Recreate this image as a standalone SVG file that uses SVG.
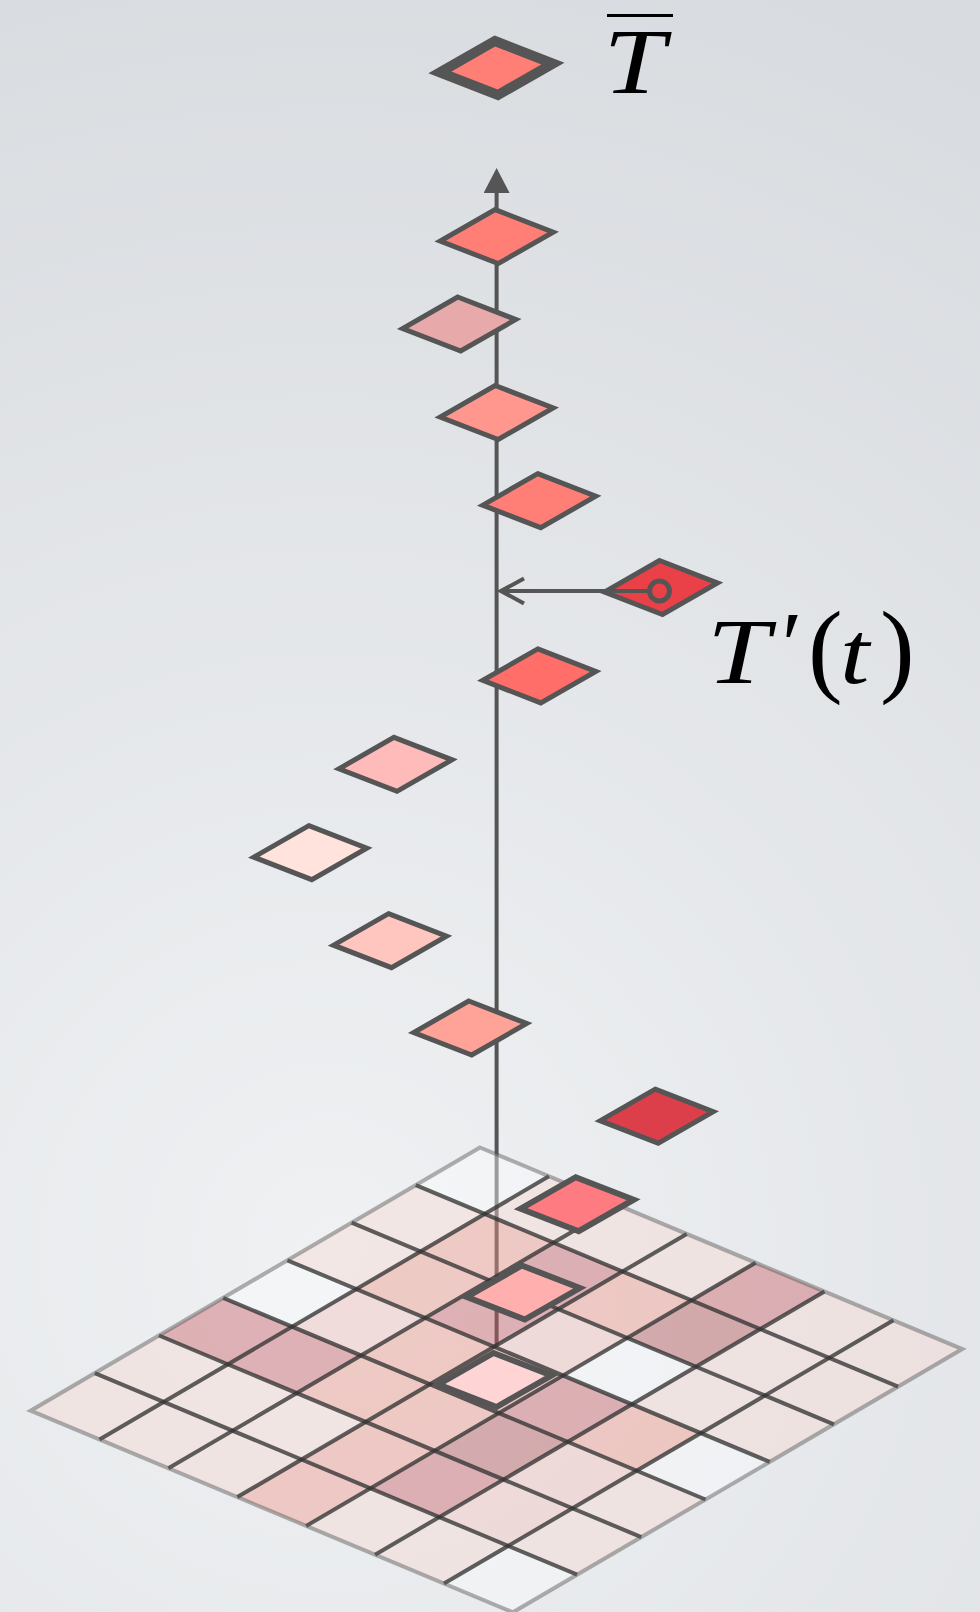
<svg xmlns="http://www.w3.org/2000/svg" xmlns:xlink="http://www.w3.org/1999/xlink" width="980" height="1612" viewBox="0 0 980 1612">
<style>
.dia{stroke:#555;stroke-width:5;stroke-linejoin:miter}
.w6{stroke-width:6}
.bar{stroke-width:10}
.conn{stroke:#555;stroke-width:4;fill:none}
.lab{font-family:"Liberation Serif","Times New Roman",serif;font-style:italic;fill:#000}
.up{font-family:"Liberation Serif","Times New Roman",serif;fill:#000}
.c{fill-opacity:.42}
.cW{fill:#fdfcfe}.cL{fill:#f7d9d2}.cP{fill:#f6c1bc}.cM{fill:#f19588}.cD{fill:#c75a62}.cE{fill:#b24e51}
.gi{fill:none;stroke:#333;stroke-opacity:.78;stroke-width:4}
.gb{fill:none;stroke:#555;stroke-opacity:.45;stroke-width:4}
</style>
<defs>
<radialGradient id="bg" cx="330" cy="1250" r="1350" gradientUnits="userSpaceOnUse">
<stop offset="0" stop-color="#eff1f3"/><stop offset="1" stop-color="#d8dbdf"/>
</radialGradient>
<polygon id="dshape" points="-1.5,-27 56.5,-4.5 1.5,27 -56.5,4.5"/>
<marker id="tri" markerUnits="userSpaceOnUse" viewBox="0 0 25 26" refX="0" refY="13" markerWidth="25" markerHeight="26" orient="auto">
<path d="M0,0L25,13L0,26Z" fill="#555"/>
</marker>
<marker id="chev" markerUnits="userSpaceOnUse" viewBox="-27 -16 30 32" refX="0" refY="0" markerWidth="30" markerHeight="32" orient="auto">
<path d="M-23,-12.5L0,0L-23,12.5" fill="none" stroke="#555" stroke-width="4"/>
</marker>
</defs>
<rect width="980" height="1612" fill="url(#bg)"/>

<g id="connectors">
<line x1="496.6" y1="1347" x2="496.6" y2="193" class="conn" marker-end="url(#tri)"/>
<line x1="606" y1="591" x2="501" y2="591" class="conn" marker-end="url(#chev)"/>
</g>

<g id="grid" transform="matrix(68.9 28.8 -64.2 37.6 480 1147.5)">
<g class="c">
<rect x="0" y="0" width="1" height="1" class="cW"/><rect x="1" y="0" width="1" height="1" class="cL"/><rect x="2" y="0" width="1" height="1" class="cL"/><rect x="3" y="0" width="1" height="1" class="cL"/><rect x="4" y="0" width="1" height="1" class="cD"/><rect x="5" y="0" width="1" height="1" class="cL"/><rect x="6" y="0" width="1" height="1" class="cL"/>
<rect x="0" y="1" width="1" height="1" class="cL"/><rect x="1" y="1" width="1" height="1" class="cM"/><rect x="2" y="1" width="1" height="1" class="cD"/><rect x="3" y="1" width="1" height="1" class="cM"/><rect x="4" y="1" width="1" height="1" class="cE"/><rect x="5" y="1" width="1" height="1" class="cL"/><rect x="6" y="1" width="1" height="1" class="cL"/>
<rect x="0" y="2" width="1" height="1" class="cL"/><rect x="1" y="2" width="1" height="1" class="cM"/><rect x="2" y="2" width="1" height="1" class="cD"/><rect x="3" y="2" width="1" height="1" class="cP"/><rect x="4" y="2" width="1" height="1" class="cW"/><rect x="5" y="2" width="1" height="1" class="cL"/><rect x="6" y="2" width="1" height="1" class="cL"/>
<rect x="0" y="3" width="1" height="1" class="cW"/><rect x="1" y="3" width="1" height="1" class="cP"/><rect x="2" y="3" width="1" height="1" class="cM"/><rect x="3" y="3" width="1" height="1" class="cM"/><rect x="4" y="3" width="1" height="1" class="cD"/><rect x="5" y="3" width="1" height="1" class="cM"/><rect x="6" y="3" width="1" height="1" class="cW"/>
<rect x="0" y="4" width="1" height="1" class="cD"/><rect x="1" y="4" width="1" height="1" class="cD"/><rect x="2" y="4" width="1" height="1" class="cM"/><rect x="3" y="4" width="1" height="1" class="cM"/><rect x="4" y="4" width="1" height="1" class="cE"/><rect x="5" y="4" width="1" height="1" class="cP"/><rect x="6" y="4" width="1" height="1" class="cL"/>
<rect x="0" y="5" width="1" height="1" class="cL"/><rect x="1" y="5" width="1" height="1" class="cL"/><rect x="2" y="5" width="1" height="1" class="cL"/><rect x="3" y="5" width="1" height="1" class="cM"/><rect x="4" y="5" width="1" height="1" class="cD"/><rect x="5" y="5" width="1" height="1" class="cP"/><rect x="6" y="5" width="1" height="1" class="cL"/>
<rect x="0" y="6" width="1" height="1" class="cL"/><rect x="1" y="6" width="1" height="1" class="cL"/><rect x="2" y="6" width="1" height="1" class="cL"/><rect x="3" y="6" width="1" height="1" class="cM"/><rect x="4" y="6" width="1" height="1" class="cL"/><rect x="5" y="6" width="1" height="1" class="cL"/><rect x="6" y="6" width="1" height="1" class="cW"/>
</g>
<path class="gi" vector-effect="non-scaling-stroke" d="M1,0V7M2,0V7M3,0V7M4,0V7M5,0V7M6,0V7"/>
<path class="gi" vector-effect="non-scaling-stroke" d="M0,1H7M0,2H7M0,3H7M0,4H7M0,5H7M0,6H7"/>
<rect class="gb" vector-effect="non-scaling-stroke" x="0" y="0" width="7" height="7"/>
</g>

<g id="d0"><use xlink:href="#dshape" x="496.4" y="68" class="dia bar" fill="#ff7f76"/></g>
<g id="d1"><use xlink:href="#dshape" x="496.7" y="236.6" class="dia" fill="#ff7e75"/></g>
<g id="d2"><use xlink:href="#dshape" x="459.2" y="324" class="dia" fill="#e8a9aa"/></g>
<g id="d3"><use xlink:href="#dshape" x="496.7" y="412.5" class="dia" fill="#ff978e"/></g>
<g id="d4"><use xlink:href="#dshape" x="539.2" y="500.7" class="dia" fill="#ff7f77"/></g>
<g id="d5"><use xlink:href="#dshape" x="661" y="587.5" class="dia" fill="#ea4048"/>
<line x1="604" y1="591" x2="650" y2="591" class="conn"/>
<circle cx="659.5" cy="591" r="10" fill="#ea4048" stroke="#555" stroke-width="5"/></g>
<g id="d6"><use xlink:href="#dshape" x="539.3" y="675.9" class="dia" fill="#ff6e68"/></g>
<g id="d7"><use xlink:href="#dshape" x="395.5" y="764.3" class="dia" fill="#ffbaba"/></g>
<g id="d8"><use xlink:href="#dshape" x="310.3" y="852.7" class="dia" fill="#ffe3dc"/></g>
<g id="d9"><use xlink:href="#dshape" x="390" y="940.7" class="dia" fill="#ffc5bf"/></g>
<g id="d10"><use xlink:href="#dshape" x="470.2" y="1028" class="dia" fill="#ffa398"/></g>
<g id="d11"><use xlink:href="#dshape" x="656.7" y="1116.2" class="dia" fill="#dc3f4a"/></g>
<g id="d12"><use xlink:href="#dshape" x="577.2" y="1204.2" class="dia w6" fill="#ff7b82"/></g>
<g id="d13"><use xlink:href="#dshape" x="523.3" y="1292.5" class="dia w6" fill="#ffb0ae"/></g>
<g id="d14"><use xlink:href="#dshape" x="495" y="1380" class="dia w6" fill="#ffd4d4"/></g>

<g id="label-tbar">
<line x1="607" y1="15.5" x2="673" y2="15.5" stroke="#000" stroke-width="3"/>
<text class="lab" font-size="94" transform="translate(603.5,93.3) scale(1.18,1)">T</text>
</g>
<g id="label-tprime">
<text class="lab" font-size="94" transform="translate(707,683) scale(1.2,1)">T</text>
<text class="lab" font-size="94" x="776" y="676">′</text>
<text class="up" font-size="104" x="808" y="683">(</text>
<text class="lab" font-size="88" transform="translate(840,683) scale(1.2,1)">t</text>
<text class="up" font-size="104" x="880" y="683">)</text>
</g>
</svg>
